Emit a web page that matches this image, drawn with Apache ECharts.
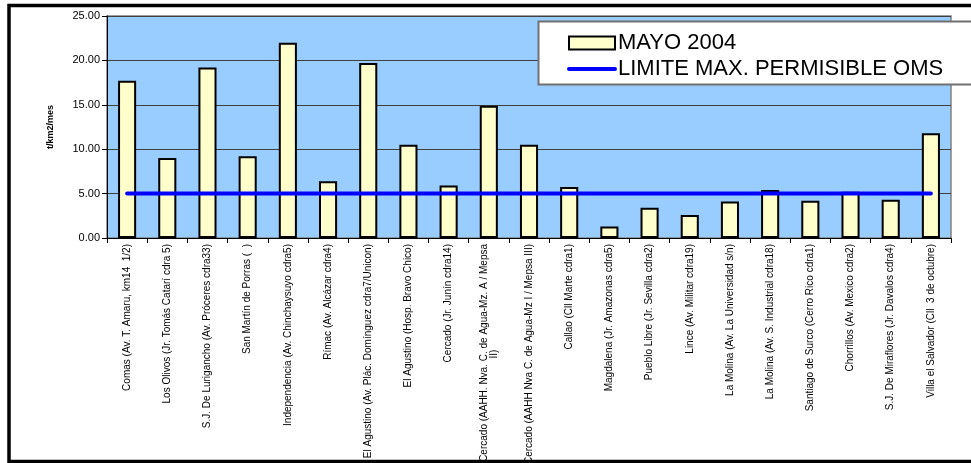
<!DOCTYPE html>
<html>
<head>
<meta charset="utf-8">
<script src="https://cdn.jsdelivr.net/npm/echarts@6/dist/echarts.min.js"></script>
<style>
html,body{margin:0;padding:0;background:#fff;}
#c{width:971px;height:463px;}
</style>
</head>
<body>
<div id="c"></div>
<script>
const categories = [
  "Comas (Av. T. Amaru, km14  1/2)",
  "Los Olivos (Jr. Tomás Catarí cdra 5)",
  "S.J. De Lurigancho (Av. Próceres cdra33)",
  "San Martín de Porras (  )",
  "Independencia (Av. Chinchaysuyo cdra5)",
  "Rímac (Av. Alcázar cdra4)",
  "El Agustino (Av. Plác. Domínguez cdra7/Unicon)",
  "El Agustino (Hosp. Bravo Chico)",
  "Cercado (Jr. Junín cdra14)",
  "Cercado (AAHH. Nva. C. de Agua-Mz. A / Mepsa\nII)",
  "Cercado (AAHH Nva C. de Agua-Mz I / Mepsa III)",
  "Callao (Cll Marte cdra1)",
  "Magdalena (Jr. Amazonas cdra5)",
  "Pueblo Libre (Jr. Sevilla cdra2)",
  "Lince (Av. Militar cdra19)",
  "La Molina (Av. La Universidad s/n)",
  "La Molina (Av. S. Industrial cdra18)",
  "Santiago de Surco (Cerro Rico cdra1)",
  "Chorrillos (Av. Mexico cdra2)",
  "S.J. De Miraflores (Jr. Davalos cdra4)",
  "Villa el Salvador (Cll  3 de octubre)"
];
const mayo2004 = [17.7, 9.0, 19.2, 9.2, 22.0, 6.4, 19.7, 10.5, 5.9, 14.9, 10.5, 5.75, 1.3, 3.4, 2.6, 4.1, 5.4, 4.2, 5.2, 4.3, 11.8];
const limiteOMS = [5, 5, 5, 5, 5, 5, 5, 5, 5, 5, 5, 5, 5, 5, 5, 5, 5, 5, 5, 5, 5];
const yTicks = [0, 5, 10, 15, 20, 25];
const seriesNames = ["MAYO 2004", "LIMITE MAX. PERMISIBLE OMS"];
const yAxisName = "t/km2/mes";

const FONT = "'Liberation Sans', Arial, sans-serif";
const LABEL_SIZE = 10;
const ctx = document.createElement('canvas').getContext('2d');
ctx.font = LABEL_SIZE + "px " + FONT;
function centerLines(v) {
  if (v.indexOf('\n') < 0) return v;
  const lines = v.split('\n');
  const widths = lines.map(l => ctx.measureText(l).width);
  const maxW = Math.max.apply(null, widths);
  const sp = ctx.measureText(' ').width;
  return lines.map((l, i) => {
    const n = Math.round((maxW - widths[i]) / 2 / sp);
    return l + ' '.repeat(n);
  }).join('\n');
}

const chart = echarts.init(document.getElementById('c'), null, {renderer: 'canvas'});
chart.setOption({
  animation: false,
  backgroundColor: '#ffffff',
  textStyle: {fontFamily: FONT},
  graphic: [
    {type: 'rect', z: -10, shape: {x: 9, y: 5.5, width: 1050, height: 456}, style: {fill: '#fff', stroke: '#000', lineWidth: 3.5}},
    {type: 'rect', z: 10, shape: {x: 538.5, y: 21.5, width: 500, height: 63}, style: {fill: '#fff', stroke: '#707070', lineWidth: 2}}
  ],
  legend: {
    z: 20,
    left: 567,
    top: 32,
    padding: 0,
    orient: 'vertical',
    itemWidth: 46,
    itemHeight: 13,
    itemGap: 4,
    textStyle: {fontSize: 22, color: '#000', fontFamily: FONT, padding: [0, 0, 0, -2]},
    data: [
      {name: seriesNames[0], icon: 'rect'},
      {name: seriesNames[1], itemStyle: {opacity: 0}, lineStyle: {width: 4, cap: 'round'}}
    ]
  },
  grid: {
    left: 107, right: 20, top: 16, bottom: 225,
    outerBoundsMode: 'none',
    show: true, backgroundColor: '#99CCFF', borderColor: '#808080', borderWidth: 1.5
  },
  xAxis: {
    type: 'category',
    data: categories,
    axisLine: {lineStyle: {color: '#000', width: 1}},
    axisTick: {show: true, length: 5, lineStyle: {color: '#000'}},
    axisLabel: {
      rotate: 90, interval: 0, fontSize: LABEL_SIZE, color: '#000', margin: 6,
      fontFamily: FONT, formatter: centerLines
    }
  },
  yAxis: {
    type: 'value',
    min: yTicks[0], max: yTicks[yTicks.length - 1], interval: 5,
    name: yAxisName,
    nameLocation: 'middle',
    nameRotate: 90,
    nameGap: 52,
    nameTextStyle: {fontSize: 9, fontWeight: 'bold', color: '#000', fontFamily: FONT},
    axisLine: {show: true, lineStyle: {color: '#000', width: 1}},
    axisTick: {show: true, length: 5, lineStyle: {color: '#000'}},
    axisLabel: {fontSize: 11, color: '#000', margin: 7, formatter: v => v.toFixed(2)},
    splitLine: {show: true, lineStyle: {color: '#404040', width: 1}}
  },
  series: [
    {
      name: seriesNames[0],
      type: 'bar',
      data: mayo2004,
      barWidth: '45%',
      itemStyle: {color: '#FFFFCC', borderColor: '#000', borderWidth: 2}
    },
    {
      name: seriesNames[1],
      type: 'line',
      data: limiteOMS,
      symbol: 'none',
      lineStyle: {color: '#0000FF', width: 4, cap: 'round'},
      itemStyle: {color: '#0000FF'},
      z: 5
    }
  ]
});
</script>
</body>
</html>
